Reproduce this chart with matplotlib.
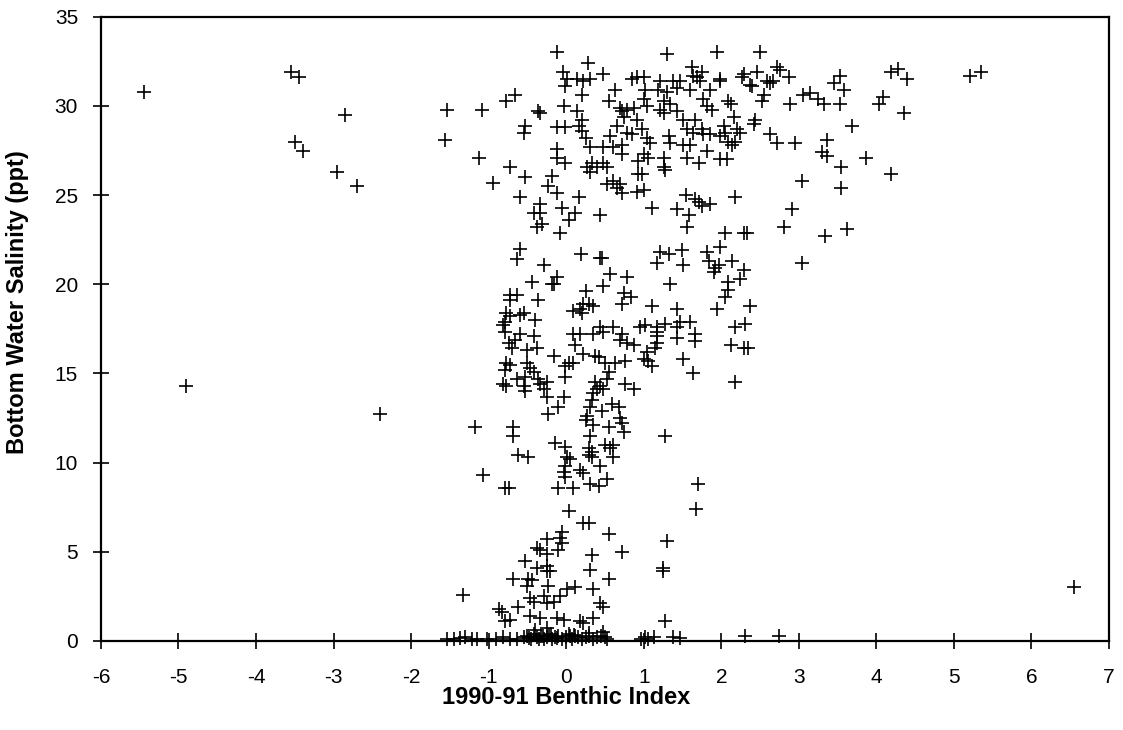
import matplotlib
matplotlib.use("Agg")
import matplotlib.pyplot as plt

plt.rcParams['font.family'] = ['Liberation Sans', 'DejaVu Sans']
plt.rcParams['axes.unicode_minus'] = False

# far-out stations
x_out = [-5.45, -4.9, -3.55, -3.45, -3.5, -3.4, -2.85, -2.95, -2.7, -2.4, -1.33, 6.55,
         -1.56, -1.09, -1.54, -1.12, -1.17, -1.07]
y_out = [30.8, 14.3, 31.9, 31.6, 28.0, 27.5, 29.5, 26.3, 25.5, 12.7, 2.6, 3.0,
         28.1, 29.8, 29.8, 27.1, 12.0, 9.3]

# high salinity, index -1..1
x_top_a = [-0.12, 0.28, -0.04, 0.01, 0.14, 0.22, 0.31, 0.48, 0.85, 0.91, -0.01, -0.66, -0.77,
           -0.36, -0.34, 0.20, 0.63, 0.55, -0.03, 0.14, 0.70, 0.72, 0.78, 0.87, 0.74, 0.91,
           0.20, -0.53, -0.55, -0.12, -0.01, 0.16, 0.20, 0.65, 0.78, 0.85, 0.25, 0.57, 0.31,
           0.48, 0.61, 0.72, -0.12, 0.72, -0.12, -0.72, -0.01, 0.27, 0.33, 0.40, 0.48, 0.52,
           0.93, -0.94, -0.53, -0.18, 0.31, 0.61, 0.70, 0.52, 0.65, 0.72, 0.91, 0.93, -0.23,
           -0.12]
y_top_a = [33.0, 32.4, 31.9, 31.5, 31.5, 31.4, 31.5, 31.8, 31.5, 31.6, 31.1, 30.6, 30.3,
           29.7, 29.6, 30.6, 30.9, 30.3, 30.0, 29.7, 29.9, 29.7, 29.8, 29.9, 29.4, 29.2,
           29.2, 28.9, 28.5, 28.8, 28.8, 28.9, 28.6, 28.9, 28.5, 28.4, 28.2, 28.3, 27.7,
           27.7, 27.7, 27.8, 27.6, 27.3, 27.1, 26.6, 26.8, 26.6, 26.8, 26.6, 26.8, 26.6,
           26.9, 25.7, 26.0, 26.1, 26.3, 25.8, 25.6, 25.6, 25.4, 25.1, 25.2, 26.2, 25.5,
           25.1]

# high salinity, index 1..3
x_top_b = [1.30, 1.94, 2.50, 1.62, 1.64, 1.69, 1.75, 1.00, 1.21, 1.38, 1.47, 1.99, 2.29,
           2.27, 2.46, 2.72, 2.76, 2.87, 2.59, 2.63, 2.67, 2.37, 2.40, 1.02, 1.19, 1.30,
           1.43, 1.60, 1.86, 1.99, 1.73, 2.55, 2.52, 2.89, 1.00, 1.04, 1.26, 1.34, 1.77,
           1.81, 2.09, 2.12, 1.21, 1.26, 1.43, 1.88, 2.16, 1.51, 1.66, 2.42, 2.44, 0.98,
           1.56, 1.64, 1.75, 1.77, 2.03, 2.05, 2.20, 2.24, 1.86, 2.63, 2.72, 2.95, 1.04,
           1.08, 1.32, 1.34, 1.51, 1.60, 1.99, 2.09, 2.14, 2.18, 1.00, 1.06, 1.26, 1.56,
           1.81, 1.99, 2.07, 1.71, 1.26, 0.98, 1.00, 1.28, 1.54]
y_top_b = [32.9, 33.0, 33.0, 32.2, 31.7, 31.6, 31.9, 31.6, 31.4, 31.4, 31.4, 31.5, 31.8,
           31.6, 31.9, 32.2, 32.0, 31.6, 31.4, 31.3, 31.4, 31.2, 31.1, 30.9, 30.9, 30.8,
           31.0, 30.9, 30.9, 31.4, 31.4, 30.6, 30.3, 30.1, 30.4, 30.0, 30.3, 30.1, 30.4,
           30.0, 30.3, 30.1, 29.8, 29.6, 29.7, 29.8, 29.4, 29.2, 29.2, 29.0, 29.2, 28.7,
           28.7, 28.5, 28.7, 28.4, 28.9, 28.5, 28.7, 28.5, 28.4, 28.4, 27.9, 27.9, 28.2,
           27.9, 28.3, 27.9, 27.8, 27.8, 28.3, 28.0, 27.8, 28.0, 27.3, 27.1, 27.1, 27.1,
           27.5, 27.0, 27.0, 26.8, 26.6, 26.2, 25.3, 26.4, 25.0]

# high salinity, index > 3
x_top_c = [3.53, 3.45, 3.58, 3.06, 3.15, 3.25, 3.32, 3.53, 4.19, 4.28, 4.39, 4.09, 4.03,
           4.36, 5.21, 5.35, 3.69, 3.36, 3.30, 3.36, 3.87, 3.54, 4.19, 3.54, 3.04]
y_top_c = [31.7, 31.3, 30.9, 30.6, 30.7, 30.4, 30.1, 30.1, 31.9, 32.1, 31.5, 30.5, 30.1,
           29.6, 31.7, 31.9, 28.9, 28.1, 27.4, 27.2, 27.1, 26.6, 26.2, 25.4, 25.8]

# mid salinity, index < 1
x_mid_a = [-0.59, 0.16, -0.34, -0.42, -0.34, -0.06, 0.12, 0.03, 0.44, -0.38, -0.31, -0.08,
           -0.60, -0.64, 0.19, 0.44, 0.46, -0.29, 0.57, 0.78, -0.44, -0.12, -0.18, -0.16,
           0.25, 0.48, -0.72, -0.64, -0.72, -0.37, 0.74, 0.83, 0.72, 0.22, 0.29, 0.35, 0.18,
           0.09, 0.20, -0.77, -0.72, -0.59, -0.55, -0.79, -0.81, -0.40, 0.44, 0.61, 0.95,
           -0.79, -0.59, -0.66, -0.74, -0.70, -0.42, -0.51, -0.38, -0.16, -0.77, -0.72,
           -0.79, -0.51, -0.47, -0.42, -0.64, -0.53, -0.81, -0.77, -0.55, -0.53, -0.36,
           -0.34, -0.25, -0.29, -0.25, -0.03, -0.10, -0.23, 0.09, 0.18, 0.35, 0.48, 0.72,
           0.70, 0.12, 0.37, 0.42, 0.22, 0.78, 0.87, 0.03, 0.09, -0.01, 0.50, 0.63, 0.76,
           -0.01, 0.55, 0.52, 0.37, 0.44, 0.40, 0.48, 0.76, 0.87, 0.35, 0.33, 0.59, 0.68,
           0.31, 0.46, 0.27, 0.25, 0.70, 0.72, 0.35, 0.55, 0.74, -0.68, -0.68, 0.31, -0.14,
           -0.01, 0.29, 0.33, 0.50, 0.57, 0.61, -0.62, -0.49, 0.01, 0.05, 0.29, 0.33, 0.61,
           -0.01, -0.03, -0.01, 0.18, 0.22, 0.44, 0.52, -0.79, -0.74, -0.10, 0.09, 0.31,
           0.42]
y_mid_a = [24.9, 24.9, 24.5, 24.0, 24.0, 24.3, 24.0, 23.6, 23.9, 23.2, 23.4, 22.9,
           22.0, 21.4, 21.7, 21.5, 21.5, 21.1, 20.6, 20.4, 20.1, 20.4, 20.0, 20.0,
           19.6, 19.9, 19.4, 19.4, 19.1, 19.1, 19.5, 19.3, 18.9, 18.9, 18.9, 18.8, 18.6,
           18.5, 18.4, 18.4, 18.2, 18.3, 18.4, 17.9, 17.7, 18.0, 17.6, 17.6, 17.6,
           17.3, 17.2, 16.9, 16.7, 16.4, 17.1, 16.3, 16.4, 16.0, 15.6, 15.5,
           15.2, 15.6, 15.3, 15.1, 14.7, 14.8, 14.4, 14.3, 14.3, 14.0, 14.7,
           14.4, 14.5, 14.1, 13.7, 13.7, 13.1, 12.7, 17.2, 17.2, 17.2, 17.3, 17.2,
           16.9, 16.6, 16.0, 15.9, 16.1, 16.7, 16.6, 15.6, 15.6, 15.4, 15.6, 15.6, 15.7,
           14.8, 15.1, 14.7, 14.5, 14.3, 14.1, 14.1, 14.4, 14.1, 13.9, 13.5, 13.3, 13.1,
           13.1, 12.9, 12.6, 12.4, 12.5, 12.2, 12.1, 12.0, 11.7, 12.0, 11.5, 11.5, 11.1,
           10.9, 10.8, 10.6, 11.0, 10.8, 11.0, 10.4, 10.3, 10.3, 10.2, 10.4, 10.3, 10.3,
           9.8, 9.5, 9.2, 9.6, 9.4, 9.8, 9.1, 8.6, 8.6, 8.6, 8.6, 8.8,
           8.7]

# mid salinity, index > 1
x_mid_b = [1.66, 1.75, 1.86, 1.71, 2.18, 1.11, 1.43, 1.58, 1.56, 2.91, 2.81, 3.34, 2.05,
           2.29, 2.33, 1.21, 1.32, 1.49, 1.17, 1.51, 1.81, 1.99, 1.84, 1.97, 2.14, 1.92,
           1.90, 2.29, 2.24, 3.04, 2.09, 2.09, 2.05, 1.34, 1.11, 1.43, 1.94, 2.37, 1.02,
           1.17, 1.28, 1.47, 1.60, 1.43, 2.18, 2.31, 3.62, 1.17, 1.17, 1.17, 1.15, 1.04,
           1.00, 1.06, 1.11, 1.43, 1.66, 1.66, 1.51, 1.64, 2.12, 2.29, 2.35, 2.18, 1.27,
           1.70]
y_mid_b = [24.8, 24.4, 24.5, 24.6, 24.9, 24.3, 24.2, 23.9, 23.2, 24.2, 23.2, 22.7, 22.9,
           22.9, 22.9, 21.8, 21.7, 21.9, 21.2, 21.1, 21.8, 22.1, 21.3, 21.1, 21.3, 20.9,
           20.7, 20.8, 20.3, 21.2, 20.1, 19.7, 19.3, 20.0, 18.8, 18.6, 18.6, 18.8, 17.7,
           17.6, 17.8, 17.9, 17.9, 17.6, 17.6, 17.8, 23.1, 17.3, 17.1, 16.7, 16.4, 16.2,
           15.8, 15.7, 15.4, 17.0, 17.2, 16.8, 15.8, 15.0, 16.6, 16.4, 16.4, 14.5, 11.5,
           8.8]

# low salinity
x_low = [0.03, 0.22, 0.29, 0.55, 0.72, -0.06, -0.08, -0.06, -0.10, -0.25, -0.38, -0.34,
         -0.25, -0.53, 0.33, -0.38, -0.25, -0.25, -0.21, 0.31, 0.55, -0.69, -0.49, -0.44,
         -0.51, -0.23, 0.01, 0.12, 0.35, -0.47, -0.42, -0.29, -0.25, -0.16, -0.08, -0.62,
         -0.87, -0.83, -0.79, -0.72, -0.47, -0.34, -0.12, -0.03, 0.18, 0.22, 0.44, 0.48,
         0.35, -0.40, -0.25, 0.48, 1.68, 1.30, 1.25, 1.25, 1.27]
y_low = [7.3, 6.6, 6.6, 6.0, 5.0, 6.1, 5.8, 5.5, 5.1, 5.7, 5.2, 5.1,
         4.9, 4.5, 4.8, 4.1, 4.2, 3.9, 3.9, 4.0, 3.5, 3.5, 3.5, 3.4,
         3.1, 3.1, 2.9, 3.0, 2.9, 2.4, 2.2, 2.5, 2.1, 2.2, 2.5, 1.9,
         1.8, 1.6, 1.1, 1.2, 1.4, 1.3, 1.3, 1.2, 1.1, 1.0, 2.1, 1.9,
         1.3, 0.6, 0.7, 0.5, 7.4, 5.6, 4.1, 3.9, 1.1]

# fresh water stations
x_fresh = [-1.54, -1.45, -1.37, -1.30, -1.22, -1.15, -1.02, -0.90, -0.81, -0.72, -0.64,
           -0.55, -0.50, -0.45, -0.42, -0.38, -0.35, -0.30, -0.28, -0.25, -0.20, -0.18,
           -0.15, -0.10, -0.05, 0.00, 0.03, 0.08, 0.12, 0.15, 0.20, 0.25, 0.30, 0.35,
           0.40, 0.45, 0.50, 0.52, -0.48, -0.33, -0.22, -0.12, 0.05, 0.10, 0.30, 0.97,
           1.02, 1.05, 1.13, 1.38, 1.47, 2.31, 2.74]
y_fresh = [0.1, 0.1, 0.15, 0.2, 0.1, 0.1, 0.1, 0.1, 0.2, 0.1, 0.1,
           0.2, 0.3, 0.1, 0.4, 0.2, 0.1, 0.3, 0.1, 0.2, 0.4, 0.1,
           0.2, 0.3, 0.1, 0.2, 0.4, 0.1, 0.3, 0.2, 0.1, 0.2, 0.3, 0.1,
           0.2, 0.3, 0.2, 0.1, 0.15, 0.25, 0.35, 0.15, 0.25, 0.35, 0.45, 0.1,
           0.2, 0.1, 0.2, 0.2, 0.15, 0.25, 0.25]

groups = [(x_out, y_out), (x_top_a, y_top_a), (x_top_b, y_top_b), (x_top_c, y_top_c),
          (x_mid_a, y_mid_a), (x_mid_b, y_mid_b), (x_low, y_low), (x_fresh, y_fresh)]

fig = plt.figure(figsize=(11.23, 7.30), dpi=100)
ax = fig.add_axes([0.0899, 0.122, 0.8976, 0.855])

for xs, ys in groups:
    ax.plot(xs, ys, linestyle='none', marker='+', color='black',
            markersize=10, markeredgewidth=1.2, clip_on=False)

ax.set_xlim(-6, 7)
ax.set_ylim(0, 35)
ax.set_xticks(range(-6, 8))
ax.set_yticks(range(0, 36, 5))
ax.tick_params(direction='inout', length=11, width=1.2, labelsize=15)
ax.tick_params(axis='x', pad=14)
ax.tick_params(axis='y', pad=11)
for s in ax.spines.values():
    s.set_linewidth(1.6)

ax.set_xlabel('1990-91 Benthic Index', fontsize=17, fontweight='bold')
ax.set_ylabel('Bottom Water Salinity (ppt)', fontsize=17, fontweight='bold')
ax.xaxis.set_label_coords(0.461, -0.072)
ax.yaxis.set_label_coords(-0.071, 0.5425)

fig.savefig('out.png', dpi=100)
